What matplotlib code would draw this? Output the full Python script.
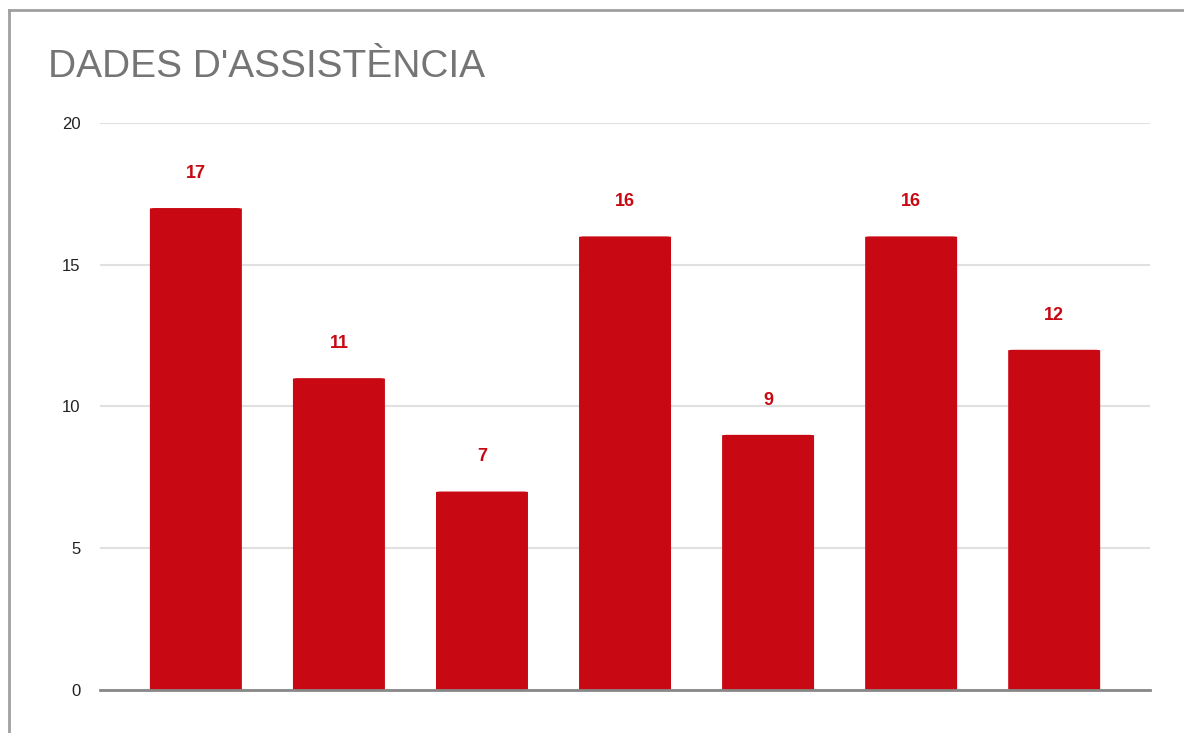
import matplotlib.pyplot as plt
from matplotlib.lines import Line2D
from matplotlib.patches import FancyBboxPatch

# dades
categories = ["1", "2", "3", "4", "5", "6", "7"]
values = [17, 11, 7, 16, 9, 16, 12]
yticks = [0, 5, 10, 15, 20]

plt.rcParams['font.family'] = ['Liberation Sans', 'DejaVu Sans']

fig = plt.figure(figsize=(11.84, 7.33), dpi=100)
ax = fig.add_axes([0.0845, 0.0587, 0.8868, 0.7735])

x = list(range(len(values)))
bars = ax.bar(x, values, width=0.643, color='#c80812', zorder=3)

# coins lleugerament arrodonits
for b in bars:
    b.set_visible(False)
    p = FancyBboxPatch((b.get_x(), 0), b.get_width(), b.get_height(),
                       boxstyle="round,pad=0,rounding_size=0.04",
                       mutation_aspect=0.6, color='#c80812', zorder=3, lw=0)
    ax.add_patch(p)

for xi, v in zip(x, values):
    ax.text(xi, v + 1.22, str(v), ha='center', va='center',
            color='#c80812', fontsize=13, fontweight='bold')

ax.set_xlim(-0.67, 6.67)
ax.set_ylim(0, 20)
ax.set_yticks(yticks)
ax.set_yticklabels([str(t) for t in yticks], fontsize=12, color='#222222')
ax.set_xticks([])
ax.tick_params(axis='y', length=0, pad=14)
ax.grid(axis='y', color='#e0e0e0', linewidth=1.5, zorder=0)
for s in ['top', 'right', 'left']:
    ax.spines[s].set_visible(False)
ax.spines['bottom'].set_color('#888888')
ax.spines['bottom'].set_linewidth(2)
ax.spines['bottom'].set_zorder(4)

fig.text(48 / 1184, 1 - 67 / 733, "DADES D'ASSISTÈNCIA", fontsize=28,
         color='#757575', ha='left', va='center')

# vora de la captura
fig.add_artist(Line2D([9 / 1184, 1], [1 - 10 / 733, 1 - 10 / 733],
                      color='#a0a0a0', linewidth=2))
fig.add_artist(Line2D([9 / 1184, 9 / 1184], [0, 1 - 10 / 733],
                      color='#a0a0a0', linewidth=2))

fig.savefig('out.png', dpi=100)
